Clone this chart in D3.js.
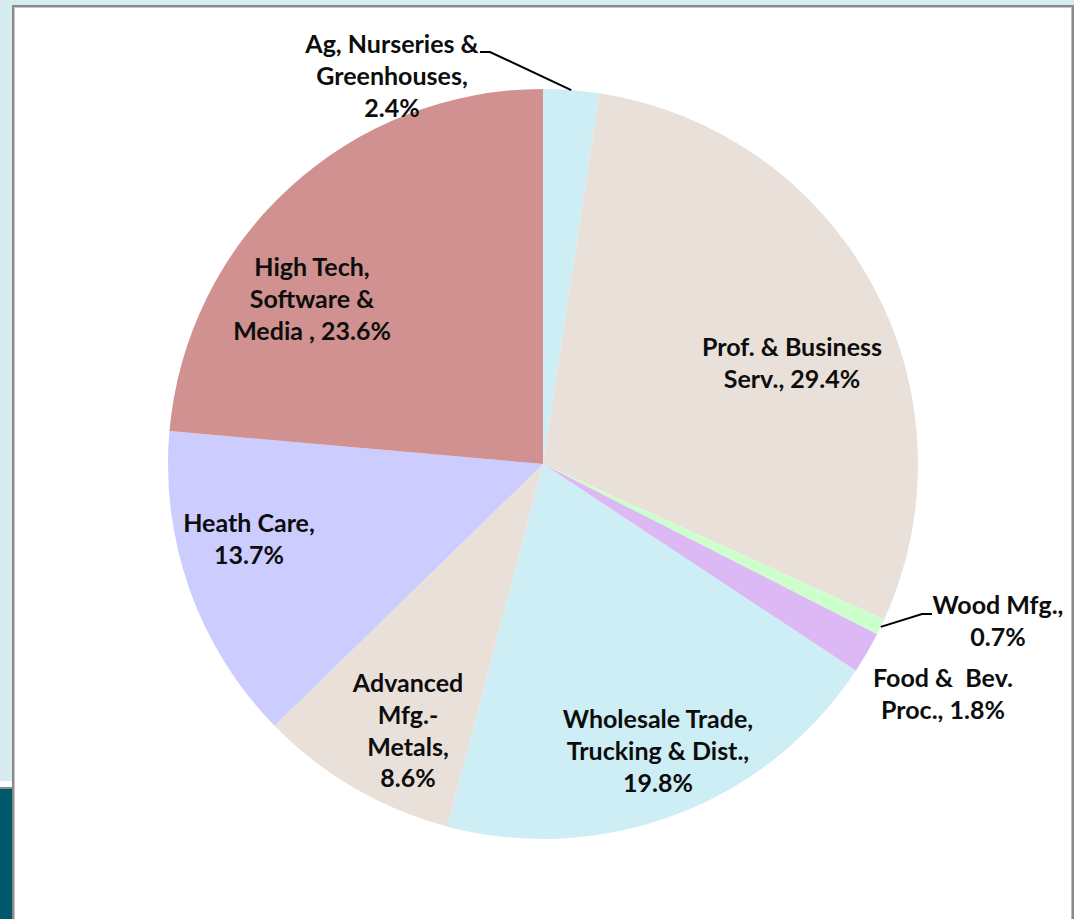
<!DOCTYPE html>
<html>
<head>
<meta charset="utf-8">
<script src="https://cdn.jsdelivr.net/npm/d3@7"></script>
<style>
html, body { margin: 0; padding: 0; background: #d7ecef; overflow: hidden; }
svg { display: block; }
</style>
</head>
<body>
<svg id="chart" width="1074" height="919"></svg>
<script>
// ---- data ----
const categories = [
  "Ag, Nurseries & Greenhouses",
  "Prof. & Business Serv.",
  "Wood Mfg.",
  "Food & Bev. Proc.",
  "Wholesale Trade, Trucking & Dist.",
  "Advanced Mfg.-Metals",
  "Heath Care",
  "High Tech, Software & Media"
];
const values = [2.4, 29.4, 0.7, 1.8, 19.8, 8.6, 13.7, 23.6];
const labelLines = [
  ["Ag, Nurseries &", "Greenhouses,", "2.4%"],
  ["Prof. & Business", "Serv., 29.4%"],
  ["Wood Mfg.,", "0.7%"],
  ["Food &\u00a0 Bev.", "Proc., 1.8%"],
  ["Wholesale Trade,", "Trucking & Dist.,", "19.8%"],
  ["Advanced", "Mfg.-", "Metals,", "8.6%"],
  ["Heath Care,", "13.7%"],
  ["High Tech,", "Software &", "Media , 23.6%"]
];

// ---- style / layout ----
const colors = ["#cdeef5", "#e9e0da", "#ccffcc", "#dcb9f5", "#cdeef5", "#e9e0da", "#ccccff", "#d09190"];
const W = 1074, H = 919;
const cx = 543, cy = 464, R = 375;
// label anchor offsets from pie centre (x of text centre, y of first line cap-centre)
const labelLayout = [
  {dx: -151, dy: -420},
  {dx: 249, dy: -117},
  {dx: 455, dy: 141},
  {dx: 400, dy: 214},
  {dx: 115, dy: 255},
  {dx: -135, dy: 219},
  {dx: -294, dy: 59},
  {dx: -231, dy: -197}
];
const lineH = 31.8;
const fontSize = 25;

const svg = d3.select("#chart");

// background pieces
svg.append("rect").attr("x", 0).attr("y", 0).attr("width", W).attr("height", H).attr("fill", "#d7ecef");
svg.append("rect").attr("x", 0).attr("y", 781).attr("width", 14).attr("height", 6).attr("fill", "#ffffff");
svg.append("rect").attr("x", 0).attr("y", 787).attr("width", 14).attr("height", 2).attr("fill", "#7f8f95");
svg.append("rect").attr("x", 0).attr("y", 789).attr("width", 14).attr("height", H - 789).attr("fill", "#02586b");
// white card with border
svg.append("rect").attr("x", 12).attr("y", 5).attr("width", W - 12).attr("height", H - 5).attr("fill", "#8a8a8a");
svg.append("rect").attr("x", 14).attr("y", 7).attr("width", 1071 - 14).attr("height", H - 7).attr("fill", "#c8c8c8");
svg.append("rect").attr("x", 15).attr("y", 8).attr("width", 1071 - 15).attr("height", H - 8).attr("fill", "#ffffff");
svg.append("rect").attr("x", 1071).attr("y", 7).attr("width", 1).attr("height", H - 7).attr("fill", "#bdbdbd");

const g = svg.append("g").attr("transform", `translate(${cx},${cy})`);

const pie = d3.pie().sort(null).value(d => d)(values);
const arc = d3.arc().innerRadius(0).outerRadius(R);

g.selectAll("path.slice")
  .data(pie)
  .join("path")
  .attr("class", "slice")
  .attr("d", arc)
  .attr("fill", (d, i) => colors[i]);

// leader lines (from slice mid-point on the rim to the label)
const leaderEnds = { 0: [[-53, -412], [-63, -412]], 2: [[379, 150], [389, 150]] };
Object.keys(leaderEnds).forEach(k => {
  const i = +k;
  const d = pie[i];
  const mid = (d.startAngle + d.endAngle) / 2;
  const px = R * Math.sin(mid), py = -R * Math.cos(mid);
  const pts = [[px, py]].concat(leaderEnds[k]);
  g.append("path")
    .attr("d", d3.line()(pts))
    .attr("fill", "none")
    .attr("stroke", "#000")
    .attr("stroke-width", 2);
});

// labels
const capOffset = fontSize * 0.717 / 2;
labelLines.forEach((lines, i) => {
  const L = labelLayout[i];
  const t = g.append("text")
    .attr("text-anchor", "middle")
    .attr("font-family", "Lato, 'Open Sans', sans-serif")
    .attr("font-weight", 700)
    .attr("font-size", fontSize)
    .attr("fill", "#0d0d0d");
  lines.forEach((ln, j) => {
    t.append("tspan")
      .attr("x", L.dx)
      .attr("y", L.dy + j * lineH + capOffset)
      .text(ln);
  });
});
</script>
</body>
</html>
